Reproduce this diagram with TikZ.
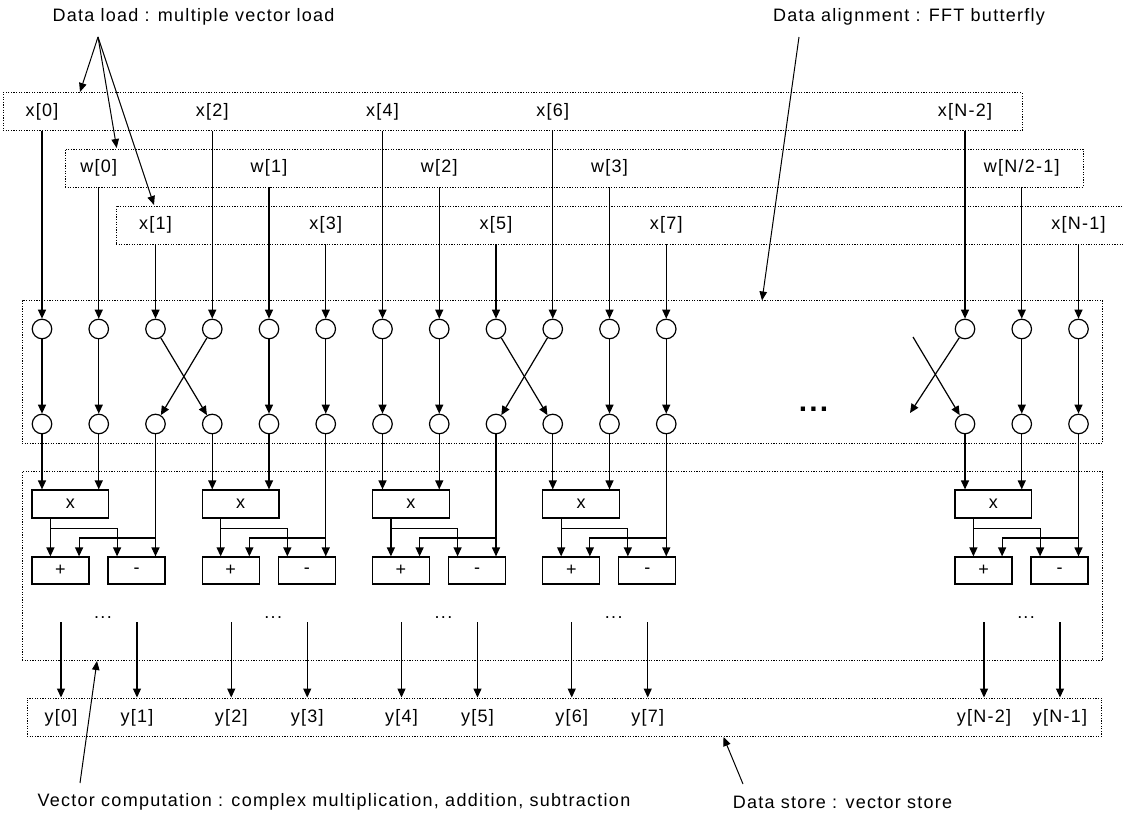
\documentclass[tikz,border=0pt]{standalone}
\usepackage{fontspec}
\setmainfont{Liberation Sans}[LetterSpace=7]
\usetikzlibrary{arrows.meta}
\begin{document}
\begin{tikzpicture}[x=1pt,y=-1pt,
  lab/.style={font=\fontsize{18}{21}\selectfont, inner sep=0pt},
  dotbox/.style={draw, line width=0.9pt, dash pattern=on 1.2pt off 1.4pt, inner sep=0pt},
  circ/.style={circle, draw, line width=1.2pt, minimum size=19.5pt, inner sep=0pt},
  opbox/.style={draw, line width=1.2pt, inner sep=0pt, font=\fontsize{18}{21}\selectfont},
  arr/.style={line width=1.2pt, -{Triangle[length=9pt,width=8pt]}},
  ann/.style={line width=1pt, -{Triangle[length=9pt,width=7.5pt]}},
  bigdots/.style={font=\fontsize{30}{30}\selectfont\bfseries, inner sep=0pt}]
\path[use as bounding box] (0,0) rectangle (1124,818);

% container boxes
\node[dotbox, minimum width=1019pt, minimum height=38pt] (r1) at (512.5,111.7) {};
\node[dotbox, minimum width=1018pt, minimum height=38pt] (r2) at (574,168) {};
\node[dotbox, minimum width=1034pt, minimum height=38pt] (r3) at (633,225) {};
\node[dotbox, minimum width=1080.5pt, minimum height=142.6pt] (bfly) at (562.25,372) {};
\node[dotbox, minimum width=1080.5pt, minimum height=189pt] (comp) at (562.25,566.2) {};
\node[dotbox, minimum width=1074.5pt, minimum height=38.5pt] (ybox) at (564.25,717.25) {};

% columns: input labels, circles, load arrows
\foreach \i/\cx/\ly/\rw/\t in {
  0/42/111.7/r1/{x[0]}, 1/98.75/168/r2/{w[0]}, 2/155.5/225/r3/{x[1]},
  3/212.25/111.7/r1/{x[2]}, 4/269/168/r2/{w[1]}, 5/325.75/225/r3/{x[3]},
  6/382.5/111.7/r1/{x[4]}, 7/439.25/168/r2/{w[2]}, 8/496/225/r3/{x[5]},
  9/552.75/111.7/r1/{x[6]}, 10/609.5/168/r2/{w[3]}, 11/666.25/225/r3/{x[7]},
  12/965/111.7/r1/{x[N-2]}, 13/1021.75/168/r2/{w[N/2-1]}, 14/1078.5/225/r3/{x[N-1]}} {
  \node[lab] (L\i) at (\cx,\ly) {\t};
  \node[circ] (t\i) at (\cx,329) {};
  \node[circ] (b\i) at (\cx,424) {};
  \draw[arr] (L\i |- \rw.south) -- (t\i);
}

% butterfly
\foreach \i in {0,1,4,5,6,7,10,11,13,14} \draw[arr] (t\i) -- (b\i);
\draw[arr] (t2) -- (b3);
\draw[arr] (t3) -- (b2);
\draw[arr] (t8) -- (b9);
\draw[arr] (t9) -- (b8);
\coordinate (hx1) at (910,413);
\coordinate (hx2) at (913,337);
\draw[arr] (t12) -- (hx1);
\draw[arr] (hx2) -- (b12);
\node[bigdots] (bd) at (813.5,409) {...};

% computation groups
\foreach \g/\a/\i/\j/\k/\ya/\yb in {
  0/42/0/1/2/{y[0]}/{y[1]}, 1/212.25/3/4/5/{y[2]}/{y[3]},
  2/382.5/6/7/8/{y[4]}/{y[5]}, 3/552.75/9/10/11/{y[6]}/{y[7]},
  4/965/12/13/14/{y[N-2]}/{y[N-1]}} {
  \node[opbox, minimum width=76.75pt, minimum height=28pt] (mul\g) at (\a+28.375,504) {x};
  \node[opbox, minimum width=57pt, minimum height=27pt] (add\g) at (\a+18.5,570.5) {+};
  \node[opbox, minimum width=57pt, minimum height=27pt] (sub\g) at (\a+94.5,570.5) {-};
  \draw[arr] (b\i) -- (b\i |- mul\g.north);
  \draw[arr] (b\j) -- (b\j |- mul\g.north);
  \draw[arr] (b\k) -- (b\k |- sub\g.north);
  \draw[arr] ([yshift=-114pt]b\k.center) -| ([xshift=47.7pt]add\g.north west);
  \draw[arr] ([xshift=19pt]mul\g.south west) -- ([xshift=19pt]add\g.north west);
  \draw[arr] ([xshift=19pt,yshift=-10pt]mul\g.south west) -| ([xshift=9.7pt]sub\g.north west);
  \node[lab] (ya\g) at (\a+19,717.5) {\ya};
  \node[lab] (yb\g) at (\a+95,717.5) {\yb};
  \coordinate (oa\g) at (\a+19,622);
  \coordinate (ob\g) at (\a+95,622);
  \draw[arr] (oa\g) -- (ya\g |- ybox.north);
  \draw[arr] (ob\g) -- (yb\g |- ybox.north);
  \node[lab] (dots\g) at (\a+61,618) {...};
}

% annotations
\node[lab] (tl1) at (193.5,17) {Data load : multiple vector load};
\node[lab] (tl2) at (909,17) {Data alignment : FFT butterfly};
\node[lab] (tl3) at (334,802) {Vector computation : complex multiplication, addition, subtraction};
\node[lab] (tl4) at (842.5,802) {Data store : vector store};
\coordinate (dla) at (98,37);
\draw[ann] (dla) -- (80,92);
\draw[ann] (dla) -- (116.7,148);
\draw[ann] (dla) -- (154,205);
\coordinate (daa) at (799,37);
\draw[ann] (daa) -- (762,300.5);
\coordinate (vca) at (80,783);
\draw[ann] (vca) -- (97,661);
\coordinate (dsa) at (743,784);
\draw[ann] (dsa) -- (723.5,737);
\end{tikzpicture}
\end{document}
